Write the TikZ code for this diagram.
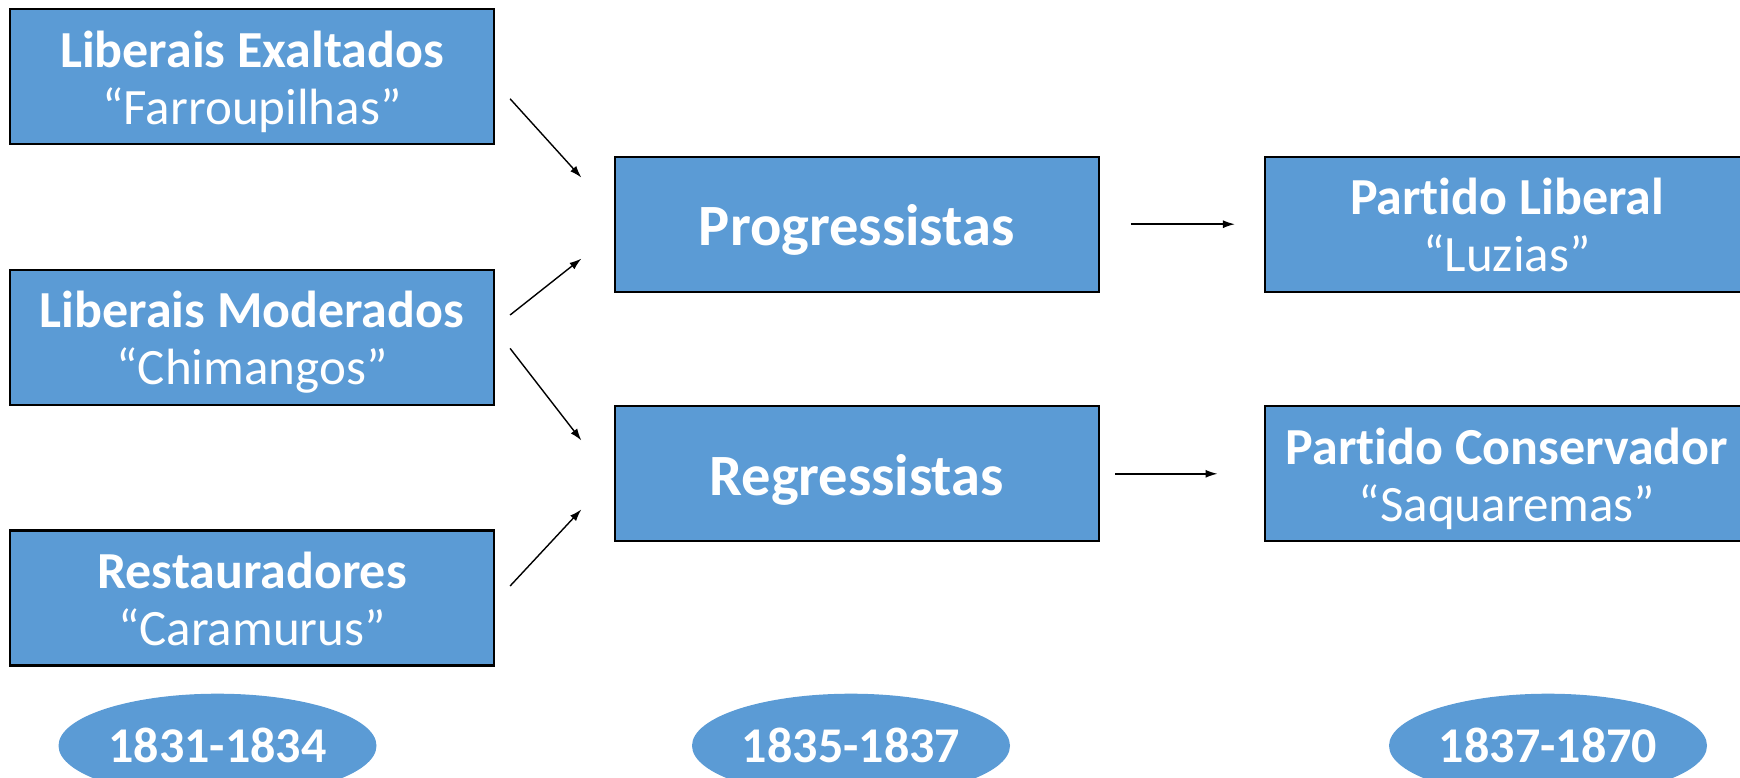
\documentclass[tikz,border=0pt]{standalone}
\usepackage{fontspec}
\setmainfont[Ligatures=NoCommon]{Carlito}
\usetikzlibrary{arrows.meta,shapes.geometric}
\definecolor{boxblue}{HTML}{5B9BD5}
\newcommand{\twoline}[2]{\raisebox{-7pt}[\height][\depth]{\begin{tabular}{@{}c@{}}{\fontsize{52}{60}\selectfont\bfseries #1}\\[-3pt]{\fontsize{51}{60}\selectfont #2}\end{tabular}}}
\newcommand{\oneline}[1]{\raisebox{-6pt}[\height][\depth]{#1}}
\tikzset{
  pbox/.style={draw=black, line width=2.2pt, fill=boxblue, minimum width=484pt, minimum height=135pt, inner sep=0pt, text=white, font=\fontsize{51}{60}\selectfont},
  mbox/.style={pbox, font=\fontsize{58.5}{64}\selectfont\bfseries},
  era/.style={ellipse, fill=boxblue, minimum width=318pt, minimum height=104pt, inner sep=0pt, text=white, font=\fontsize{50}{55}\selectfont\bfseries},
  arr/.style={-{Latex[length=12pt,width=8pt]}, line width=1.4pt, black}
}
\begin{document}
\begin{tikzpicture}[x=1pt,y=-1pt]
\useasboundingbox (0,0) rectangle (1740,778);
\clip (0,0) rectangle (1740,778);
\node[pbox] (le) at (252,76.6) {\twoline{Liberais Exaltados}{“Farroupilhas”}};
\node[pbox] (lm) at (252,337.4) {\twoline{Liberais Moderados}{“Chimangos”}};
\node[pbox] (re) at (252,598) {\twoline{Restauradores}{“Caramurus”}};
\node[mbox] (pr) at (856.7,224.2) {\oneline{Progressistas}};
\node[mbox] (rg) at (856.7,473.8) {\oneline{Regressistas}};
\node[pbox] (pl) at (1507,224.2) {\twoline{Partido Liberal}{“Luzias”}};
\node[pbox] (pc) at (1507,473.8) {\twoline{Partido Conservador}{“Saquaremas”}};
\node[era] (e1) at (217.5,745.7) {1831-1834};
\node[era] (e2) at (851,745.7) {1835-1837};
\node[era] (e3) at (1548,745.7) {1837-1870};
\draw[arr] ([shift={(15,22.2)}]le.east) -- ([shift={(-32.2,-46.6)}]pr.west);
\draw[arr] ([shift={(15,-22.4)}]lm.east) -- ([shift={(-32.2,34.4)}]pr.west);
\draw[arr] ([shift={(15,11)}]lm.east) -- ([shift={(-32.2,-33.3)}]rg.west);
\draw[arr] ([shift={(15,-12)}]re.east) -- ([shift={(-32.2,35.6)}]rg.west);
\draw[arr] ([shift={(31,0)}]pr.east) -- ([shift={(-29,0)}]pl.west);
\draw[arr] ([shift={(15.4,0)}]rg.east) -- ([shift={(-46.4,0)}]pc.west);
\end{tikzpicture}
\end{document}
